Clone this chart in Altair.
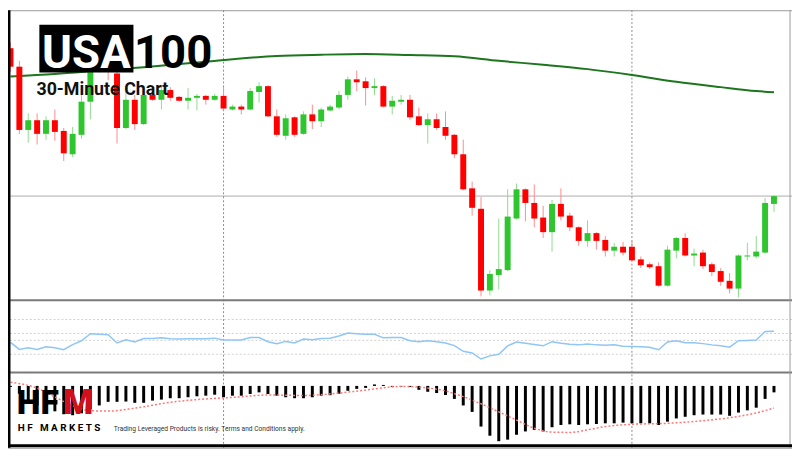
import altair as alt
import pandas as pd

# ---------------- data ----------------
idx = list(range(87))

open_ = [17961, 17942, 17877, 17887, 17873, 17887, 17876, 17852, 17872, 17906,
         17937, 17954, 17935, 17879, 17908, 17883, 17913, 17908, 17918, 17911,
         17907, 17910, 17912, 17908, 17912, 17898, 17901, 17898, 17916, 17922,
         17891, 17871, 17890, 17873, 17893, 17886, 17897, 17900, 17913, 17929,
         17927, 17920, 17922, 17901, 17906, 17908, 17891, 17882, 17888, 17880,
         17872, 17852, 17817, 17796, 17712, 17728, 17733, 17786, 17816, 17802,
         17787, 17772, 17801, 17789, 17777, 17763, 17771, 17764, 17753, 17757,
         17757, 17744, 17739, 17737, 17717, 17753, 17766, 17748, 17751, 17739,
         17732, 17722, 17714, 17747, 17747, 17751, 17801]

close = [17942, 17877, 17887, 17873, 17887, 17875, 17853, 17873, 17906, 17940,
         17955, 17938, 17879, 17908, 17883, 17913, 17908, 17918, 17910, 17907,
         17910, 17912, 17908, 17912, 17899, 17901, 17898, 17917, 17922, 17891,
         17872, 17889, 17872, 17893, 17886, 17898, 17901, 17913, 17929, 17926,
         17920, 17922, 17901, 17907, 17908, 17890, 17882, 17888, 17879, 17871,
         17852, 17816, 17797, 17712, 17729, 17734, 17788, 17816, 17802, 17786,
         17772, 17801, 17788, 17777, 17763, 17771, 17763, 17753, 17757, 17751,
         17743, 17738, 17736, 17717, 17754, 17766, 17748, 17750, 17737, 17731,
         17721, 17714, 17748, 17748, 17752, 17802, 17809]

high = [17967, 17948, 17894, 17894, 17891, 17898, 17879, 17880, 17913, 17950,
        17960, 17958, 17942, 17917, 17913, 17917, 17918, 17921, 17921, 17912,
        17920, 17914, 17913, 17914, 17921, 17903, 17903, 17920, 17926, 17923,
        17898, 17893, 17891, 17896, 17903, 17900, 17903, 17917, 17932, 17938,
        17931, 17930, 17923, 17912, 17913, 17913, 17900, 17894, 17894, 17896,
        17873, 17867, 17824, 17808, 17733, 17786, 17816, 17822, 17817, 17821,
        17799, 17805, 17817, 17792, 17778, 17784, 17772, 17768, 17761, 17762,
        17763, 17747, 17741, 17741, 17758, 17767, 17771, 17755, 17754, 17741,
        17735, 17730, 17749, 17761, 17768, 17807, 17810]

low = [17937, 17873, 17864, 17862, 17867, 17866, 17845, 17849, 17868, 17888,
       17936, 17928, 17863, 17878, 17877, 17882, 17907, 17898, 17907, 17906,
       17898, 17897, 17903, 17907, 17897, 17897, 17893, 17897, 17905, 17890,
       17870, 17867, 17870, 17872, 17878, 17880, 17896, 17898, 17908, 17917,
       17902, 17913, 17900, 17893, 17903, 17887, 17881, 17863, 17877, 17867,
       17848, 17815, 17789, 17706, 17707, 17713, 17732, 17785, 17783, 17777,
       17766, 17752, 17784, 17773, 17758, 17757, 17754, 17747, 17747, 17748,
       17742, 17735, 17734, 17716, 17716, 17745, 17747, 17737, 17734, 17727,
       17717, 17709, 17705, 17743, 17745, 17750, 17793]

ma_idx = [0, 5, 10, 15, 20, 25, 30, 35, 40, 45, 50, 55, 60, 65, 70, 75, 80, 84, 86]
ma_val = [17932, 17934.5, 17938, 17941.5, 17945.5, 17949.7, 17953, 17954.3, 17955,
          17954, 17952.7, 17948, 17944, 17939.5, 17933.5, 17926.5, 17921, 17917, 17915.7]

rsi = [42.1, 31.9, 34.3, 31.9, 35.7, 34.3, 31.5, 38.9, 44.4, 54.6,
       53.8, 53.2, 41.3, 45.8, 42.6, 47.6, 47.6, 48.6, 47.2, 46.8,
       47.2, 47.2, 47.2, 48.2, 45.4, 45.4, 45.4, 49.0, 49.0, 43.1,
       40.3, 43.5, 41.3, 46.8, 45.8, 47.6, 48.2, 51.4, 55.6, 54.6,
       53.8, 53.8, 48.6, 49.0, 49.0, 44.4, 43.1, 44.4, 43.1, 41.3,
       37.5, 29.2, 26.8, 18.1, 22.6, 25.0, 37.1, 42.6, 40.7, 38.9,
       37.1, 43.1, 40.7, 39.3, 38.5, 39.9, 38.5, 37.9, 38.5, 36.5,
       36.1, 35.7, 35.1, 31.5, 42.6, 44.4, 41.7, 41.7, 40.3, 38.5,
       37.1, 35.1, 44.4, 44.9, 45.4, 57.9, 58.3]
rsi_levels = [75, 55, 45, 25]

macd = [-1, -8, -15, -20, -24, -26, -29, -30, -28, -24,
        -20, -16.3, -16.3, -16, -17.3, -17.3, -15, -14, -12.6, -12.6,
        -11.6, -10.6, -10, -9, -11.6, -10, -10, -8.3, -6.6, -8.3,
        -10, -11.6, -12.6, -12.6, -11.6, -10, -9.5, -8, -5, -3,
        -2, 1.5, 1, -1, -0.6, -1, -4, -6, -7.3, -9.3,
        -13.3, -20, -26.6, -41.6, -51, -56.6, -55, -50, -46.6, -45,
        -46.6, -42.3, -40, -39.3, -40, -39.3, -39, -38.3, -38.3, -37.6,
        -38.3, -38.3, -38.3, -40, -36.6, -33.3, -31.6, -30, -29.3, -29.3,
        -29.3, -30.6, -27.3, -25, -22.3, -13.3, -6.6]

sig_idx = [0, 3, 5, 7, 9, 11, 14, 18, 22, 25, 29, 33, 37, 40, 44, 48, 51, 53, 55,
           57, 59, 61, 63, 65, 67, 70, 74, 78, 81, 84, 86]
sig_val = [3.7, -2.3, -11.3, -20.3, -25.3, -25.8, -22.8, -16.8, -13.3, -11.8, -9.3,
           -9.8, -7.3, -4.3, -0.6, -3.3, -11, -18.3, -26.6, -35, -43.3, -47.3, -47.6,
           -45, -41.6, -39.3, -38.3, -35.6, -32.6, -27.6, -22.6]

sessions = [24, 70]

# ---------------- layout ----------------
W, H = 792, 442
P1, P2, P3 = 293, 366, 440          # bottoms of price / RSI / MACD panes
SX, SY = 0.99, 0.982
XDOM = [-0.28, 88.03]
FONT = "Roboto"


def px(x):
    return x * SX


def py(y):
    return y * SY


xenc = alt.X("i:Q", scale=alt.Scale(domain=XDOM, nice=False, zero=False), axis=None)
one = pd.DataFrame({"a": [0]})

yp = dict(domain=[17702, 18000], range=[P1, 0], nice=False, zero=False)
yr = dict(domain=[-1.4, 102.8], range=[P2, P1], nice=False, zero=False)
ym = dict(domain=[-61.3, 13.7], range=[P3, P2], nice=False, zero=False)


def Y(field, sc):
    return alt.Y(field, scale=alt.Scale(**sc), axis=None)


def label(text, x, y, size, color="black", weight="bold", align="left"):
    return alt.Chart(one).mark_text(
        text=text, font=FONT, fontSize=size, fontWeight=weight, color=color,
        align=align, baseline="alphabetic"
    ).encode(x=alt.value(x), y=alt.value(y))


def hline(y, color, width):
    return alt.Chart(one).mark_rule(color=color, strokeWidth=width).encode(
        x=alt.value(0), x2=alt.value(W), y=alt.value(y))


def vline(x, color, width):
    return alt.Chart(one).mark_rule(color=color, strokeWidth=width).encode(
        x=alt.value(x), y=alt.value(0), y2=alt.value(H))


# ---------------- price pane ----------------
candles = pd.DataFrame({"i": idx, "open": open_, "high": high, "low": low, "close": close})
up = candles[candles["close"] >= candles["open"]]
down = candles[candles["close"] < candles["open"]]

last = alt.Chart(pd.DataFrame({"p": [close[-1]]})).mark_rule(
    color="#d0d0d0", strokeWidth=2).encode(y=Y("p:Q", yp))
ma = alt.Chart(pd.DataFrame({"i": ma_idx, "ma": ma_val})).mark_line(
    color="#1d761d", strokeWidth=2, interpolate="monotone").encode(x=xenc, y=Y("ma:Q", yp))


def wick(df, color):
    return alt.Chart(df).mark_rule(color=color, strokeWidth=1).encode(
        x=xenc, y=Y("low:Q", yp), y2="high:Q")


def body(df, color):
    return alt.Chart(df).mark_rule(color=color, strokeWidth=6).encode(
        x=xenc, y=Y("open:Q", yp), y2="close:Q")


box = alt.Chart(one).mark_rect(color="black").encode(
    x=alt.value(px(32)), x2=alt.value(px(128)), y=alt.value(py(15)), y2=alt.value(py(64)))

# ---------------- RSI pane ----------------
levels = alt.Chart(pd.DataFrame({"v": rsi_levels})).mark_rule(
    color="#cfcfcf", strokeDash=[2, 2], strokeWidth=1).encode(y=Y("v:Q", yr))
rline = alt.Chart(pd.DataFrame({"i": idx, "rsi": rsi})).mark_line(
    color="#8fc6f6", strokeWidth=1.5).encode(x=xenc, y=Y("rsi:Q", yr))

# ---------------- MACD pane ----------------
bars = alt.Chart(pd.DataFrame({"i": idx, "macd": macd})).mark_rule(
    color="black", strokeWidth=3).encode(x=xenc, y=Y("macd:Q", ym), y2=alt.datum(0))
sig = alt.Chart(pd.DataFrame({"i": sig_idx, "sig": sig_val})).mark_line(
    color="#ff7676", strokeDash=[2, 2], strokeWidth=1.5, interpolate="monotone").encode(
    x=xenc, y=Y("sig:Q", ym))

sess = alt.Chart(pd.DataFrame({"i": sessions})).mark_rule(
    color="#8c8c8c", strokeDash=[2, 2], strokeWidth=1).encode(x=xenc)

NB = "\u00a0"
brand = NB.join("HF") + NB * 3 + NB.join("MARKETS")

chart = alt.layer(
    last, levels, sess, ma,
    wick(up, "#8fdc8f"), wick(down, "#ff8c8c"),
    body(up, "#2fc52f"), body(down, "#ff0000"),
    rline, bars, sig,
    hline(P1, "#7a7a7a", 2), hline(P2, "#7a7a7a", 2),
    vline(px(798), "#9a9a9a", 1),
    box,
    label("USA", px(80), py(59.5), 46, color="white", align="center"),
    label("100", px(128.5), py(59.5), 46),
    label("30-Minute Chart", px(29), py(87), 18, color="#111"),
    label("HF", px(9), py(415), 34, weight=900),
    label("M", px(56), py(415), 35, color="#d0101a", weight=900),
    label(brand, px(10), py(433), 10),
    label("Trading Leveraged Products is risky. Terms and Conditions apply.",
          px(108), py(432.5), 6.7, color="#333", weight="normal"),
    vline(1, "black", 3), hline(H - 2, "black", 3),
).resolve_scale(y="independent").properties(
    width=W, height=H, padding=0, background="white",
    autosize=alt.AutoSizeParams(type="none"),
).configure_view(stroke="#9a9a9a", strokeWidth=1)

chart.save("out.html", embed_options={"renderer": "svg", "actions": False})
